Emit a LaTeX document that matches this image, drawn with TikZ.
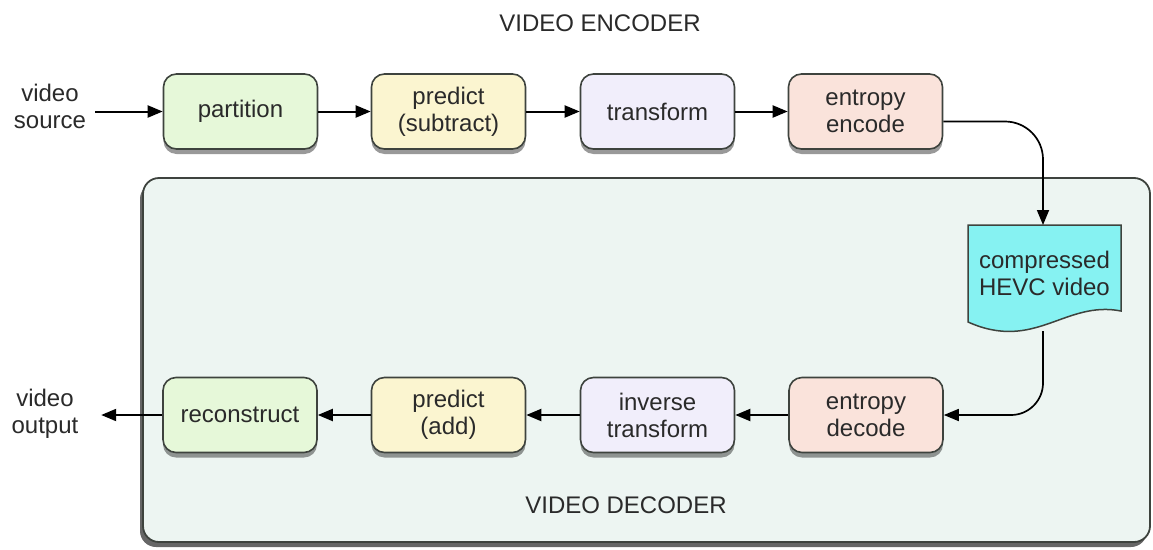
\documentclass[tikz,border=0pt]{standalone}
\usepackage{fontspec}
\setmainfont{Liberation Sans}
\usetikzlibrary{arrows.meta,shadows}
\definecolor{txt}{HTML}{2A2A2A}
\definecolor{edge}{HTML}{3E433E}
\definecolor{cgreen}{HTML}{E6F8D9}
\definecolor{cyellow}{HTML}{FBF5D0}
\definecolor{clav}{HTML}{F1EEFB}
\definecolor{cpeach}{HTML}{FAE3DB}
\definecolor{ccyan}{HTML}{86F2F2}
\definecolor{cdec}{HTML}{EDF5F2}
\begin{document}
\begin{tikzpicture}[x=1pt,y=-1pt,
  font=\fontsize{24}{27}\selectfont, text=txt,
  box/.style={draw=edge, line width=1.6pt, rounded corners=13pt,
    minimum width=154pt, minimum height=75pt, align=center,
    drop shadow={shadow xshift=0pt, shadow yshift=-5pt, opacity=0.4, fill=black}},
  plain/.style={align=center},
  arr/.style={draw=black, line width=2pt, -{Triangle[length=15pt,width=12pt]}},
  conn/.style={draw=black, line width=1.7pt, -{Triangle[length=15pt,width=12pt]}}]
\useasboundingbox (0,0) rectangle (1153,549);
\fill[white] (0,0) rectangle (1153,549);

% decoder frame
\draw[draw=edge, line width=1.8pt, fill=cdec, rounded corners=16pt,
  drop shadow={shadow xshift=-3pt, shadow yshift=-5pt, opacity=0.6, fill=black}]
  (143,178) rectangle (1150,542);

\node[plain] (enctitle) at (600,23) {VIDEO ENCODER};
\node[plain] (dectitle) at (626,505) {VIDEO DECODER};

% encoder row
\node[plain, minimum width=90pt] (src) at (50,106) {video\\source};
\node[box, fill=cgreen]  (pt) at (240.5,111.5) {partition};
\node[box, fill=cyellow] (ps) at (448.5,111.5) {predict\\(subtract)};
\node[box, fill=clav]    (tf) at (657.5,111.5) {transform};
\node[box, fill=cpeach]  (ee) at (865.5,111.5) {entropy\\encode};

% compressed document
\draw[draw=edge, line width=1.5pt, fill=ccyan]
  (968,225) -- (1121,225) -- (1121,311)
  .. controls (1065,300) and (1035,352) .. (968,322) -- cycle;
\node[plain] (doc) at (1044.5,273) {compressed\\HEVC video};
\coordinate (doctop) at (1043,225);
\coordinate (docbot) at (1043,331);

% decoder row
\node[plain, minimum width=112pt] (out) at (45,414) {video\\output};
\node[box, fill=cgreen]  (rc) at (240,415) {reconstruct};
\node[box, fill=cyellow] (pa) at (448.5,415) {predict\\(add)};
\node[box, fill=clav]    (it) at (657.5,415) {inverse\\transform};
\node[box, fill=cpeach]  (ed) at (866,415) {entropy\\decode};

% connectors
\draw[arr] (src.east |- pt.west) -- (pt.west);
\draw[arr] (pt) -- (ps);
\draw[arr] (ps) -- (tf);
\draw[arr] (tf) -- (ee);
\draw[conn, rounded corners=38pt] ([yshift=-10pt]ee.east) -| (doctop);
\draw[conn, rounded corners=32pt] (docbot) |- (ed.east);
\draw[arr] (ed) -- (it);
\draw[arr] (it) -- (pa);
\draw[arr] (pa) -- (rc);
\draw[arr] (rc.west) -- (out.east |- rc.west);
\end{tikzpicture}
\end{document}
